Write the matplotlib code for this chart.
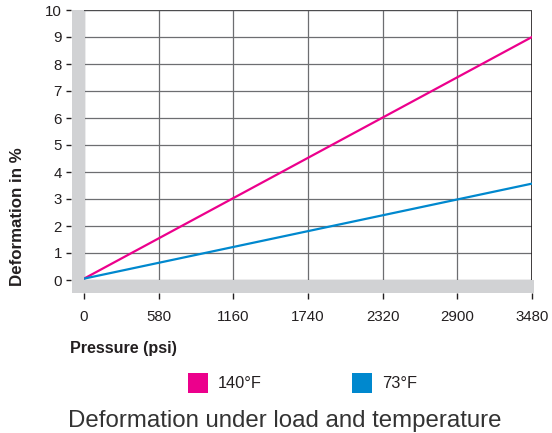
import matplotlib
matplotlib.use("Agg")
import matplotlib.pyplot as plt
import matplotlib.patches as mpatches

plt.rcParams["font.family"] = ["Liberation Sans", "DejaVu Sans"]

# data
pressure = [0, 3480]
deform_140 = [0.05, 9.0]
deform_73 = [0.05, 3.57]
x_ticks = [0, 580, 1160, 1740, 2320, 2900, 3480]
y_ticks = list(range(0, 11))
series_labels = ["140°F", "73°F"]

HOT_COL = "#EC008C"
COLD_COL = "#0088CE"
BAND_COL = "#D1D2D4"
TXT_COL = "#231F20"

FW, FH = 552, 433
fig = plt.figure(figsize=(FW / 100, FH / 100), dpi=100)
L, R, B, T = 84 / FW, 532 / FW, 1 - 280 / FH, 1 - 10 / FH
ax = fig.add_axes([L, B, R - L, T - B])

ax.set_xlim(0, 3480)
ax.set_ylim(0, 10)
ax.set_xticks(x_ticks)
ax.set_yticks(y_ticks)
ax.grid(True, color="#6d6e71", linewidth=0.9)
ax.set_axisbelow(True)

for s in ("top", "right", "left", "bottom"):
    ax.spines[s].set_visible(False)
for s in ("left", "bottom"):
    ax.spines[s].set_position(("outward", 9.4))
ax.axvline(3480, color="#231F20", lw=1.2, zorder=1.5)
ax.axhline(10, color="#4d4d4f", lw=1.6, zorder=1.5)

ax.tick_params(axis="both", colors=TXT_COL, labelsize=10.8, width=1.0)
ax.tick_params(axis="y", length=3.5, pad=3)
ax.tick_params(axis="x", length=4, pad=8)

# light grey bands along the axes
w = 448.0
h = 270.0
ax.add_patch(mpatches.Rectangle((-12.5 / w, -12.5 / h), 13.5 / w, 1 + 12.5 / h,
                                transform=ax.transAxes, color=BAND_COL,
                                clip_on=False, zorder=1.2, lw=0))
ax.add_patch(mpatches.Rectangle((-12.5 / w, -12.5 / h), 1 + 14.5 / w, 12.5 / h,
                                transform=ax.transAxes, color=BAND_COL,
                                clip_on=False, zorder=1.2, lw=0))

ax.plot(pressure, deform_140, color=HOT_COL, lw=1.6, zorder=3)
ax.plot(pressure, deform_73, color=COLD_COL, lw=1.6, zorder=3)

fig.text(18 / FW, 1 - 217 / FH, "Deformation in %", rotation=90, ha="center", va="center",
         fontsize=12.2, fontweight="bold", color=TXT_COL)
fig.text(70 / FW, 1 - 348 / FH, "Pressure (psi)", ha="left", va="center",
         fontsize=11.6, fontweight="bold", color=TXT_COL)

# legend: square swatches + labels
for x0, col, lab in zip([188, 352], [HOT_COL, COLD_COL], series_labels):
    fig.patches.append(mpatches.Rectangle((x0 / FW, 1 - 393 / FH), 20 / FW, 20 / FH,
                                          transform=fig.transFigure, color=col, lw=0))
    fig.text((x0 + 30) / FW, 1 - 383 / FH, lab, ha="left", va="center",
             fontsize=11.8, color=TXT_COL)

fig.text(285 / FW, 1 - 421 / FH, "Deformation under load and temperature",
         ha="center", va="center", fontsize=17.3, color="#333333")

fig.savefig("out.png", dpi=100)
